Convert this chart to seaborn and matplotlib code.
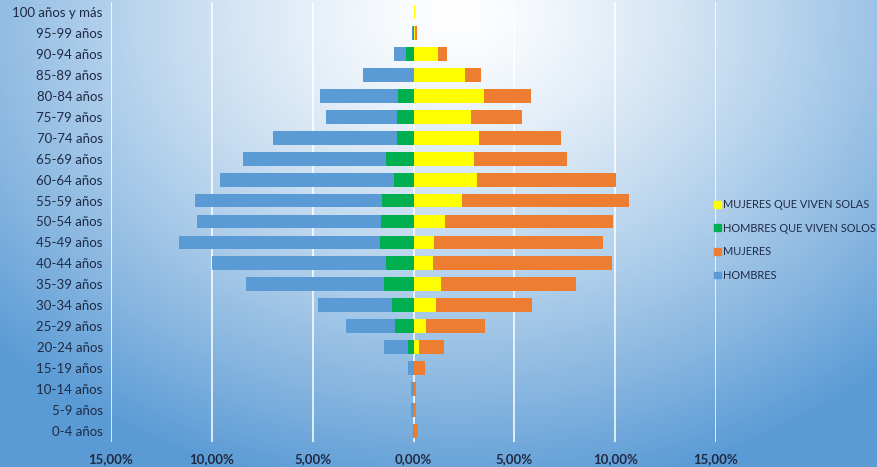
import numpy as np
import matplotlib
matplotlib.use("Agg")
import matplotlib.pyplot as plt
from matplotlib.patches import Patch
from matplotlib.ticker import FuncFormatter, MultipleLocator
import seaborn as sns

# --- DATOS (% de la población) ---
edades = ["100 años y más", "95-99 años", "90-94 años", "85-89 años", "80-84 años",
          "75-79 años", "70-74 años", "65-69 años", "60-64 años", "55-59 años",
          "50-54 años", "45-49 años", "40-44 años", "35-39 años", "30-34 años",
          "25-29 años", "20-24 años", "15-19 años", "10-14 años", "5-9 años", "0-4 años"]
hombres = [0.0, 0.05, 0.95, 2.5, 4.64, 4.33, 6.95, 8.46, 9.59, 10.81,
           10.76, 11.63, 9.97, 8.29, 4.76, 3.37, 1.44, 0.25, 0.1, 0.1, 0.02]
hombres_solos = [0.0, 0.02, 0.36, 0.0, 0.75, 0.81, 0.81, 1.34, 0.95, 1.54,
                 1.59, 1.64, 1.38, 1.44, 1.08, 0.90, 0.25, 0.0, 0.0, 0.0, 0.0]
mujeres = [0.05, 0.18, 1.67, 3.33, 5.85, 5.37, 7.31, 7.63, 10.03, 10.70,
           9.88, 9.39, 9.83, 8.04, 5.90, 3.55, 1.51, 0.55, 0.13, 0.13, 0.2]
mujeres_solas = [0.05, 0.05, 1.23, 2.54, 3.5, 2.87, 3.23, 3.02, 3.13, 2.42,
                 1.56, 1.03, 0.98, 1.36, 1.13, 0.60, 0.28, 0.03, 0.0, 0.0, 0.0]

C_HOMBRES = "#5B9BD5"
C_MUJERES = "#ED7D31"
C_H_SOLOS = "#00B050"
C_M_SOLAS = "#FFFF00"
TXT = "#1F2A44"

sns.set_theme(style="white")
plt.rcParams["font.family"] = ["Lato", "DejaVu Sans"]

fig = plt.figure(figsize=(8.77, 4.67), dpi=100)

# fondo degradado
bg = fig.add_axes([0, 0, 1, 1], zorder=-10)
yy, xx = np.mgrid[0:1:300j, 0:1:600j]
d = np.sqrt(((xx - 0.52) / 0.75) ** 2 + ((yy - 0.03) / 1.1) ** 2)
d = np.clip(d / 0.95, 0, 1) ** 1.3
c0 = np.array([1.0, 1.0, 1.0])
c1 = np.array([0x5B, 0x9B, 0xD5]) / 255
img = c0[None, None, :] * (1 - d[..., None]) + c1[None, None, :] * d[..., None]
bg.imshow(img, aspect="auto", extent=[0, 1, 0, 1], origin="upper")
bg.axis("off")

ax = fig.add_axes([111 / 877, 1 - 441.5 / 467, 605 / 877, 440 / 467])
ax.patch.set_alpha(0)

w = 0.66
neg = lambda v: [-x for x in v]
kw = dict(y=edades, order=edades, width=w, orient="h", ax=ax, saturation=1, linewidth=0)
sns.barplot(x=neg(hombres), color=C_HOMBRES, zorder=2, **kw)
sns.barplot(x=neg(hombres_solos), color=C_H_SOLOS, zorder=3, **kw)
sns.barplot(x=mujeres, color=C_MUJERES, zorder=2, **kw)
sns.barplot(x=mujeres_solas, color=C_M_SOLAS, zorder=3, **kw)

ax.set_xlim(-15, 15)
ax.set_ylim(len(edades) - 0.5, -0.5)
ax.xaxis.set_major_locator(MultipleLocator(5))
ax.xaxis.set_major_formatter(FuncFormatter(lambda v, p: f"{abs(v):.2f}%".replace(".", ",")))
ax.grid(axis="x", color="white", linewidth=1.1, zorder=0)
ax.set_axisbelow(True)
for s in ax.spines.values():
    s.set_visible(False)
ax.set_xlabel("")
ax.set_ylabel("")
ax.tick_params(axis="both", length=0)
ax.tick_params(axis="y", pad=6, labelsize=9.5, labelcolor=TXT)
ax.tick_params(axis="x", pad=8, labelsize=9.5, labelcolor=TXT)
for t in ax.get_xticklabels():
    t.set_fontweight("bold")

handles = [Patch(color=C_M_SOLAS, label="MUJERES QUE VIVEN SOLAS"),
           Patch(color=C_H_SOLOS, label="HOMBRES QUE VIVEN SOLOS"),
           Patch(color=C_MUJERES, label="MUJERES"),
           Patch(color=C_HOMBRES, label="HOMBRES")]
leg = fig.legend(handles=handles, loc="upper left", bbox_to_anchor=(714 / 877, 1 - 199 / 467),
                 frameon=False, fontsize=7.9, handlelength=0.6, handleheight=0.6,
                 handletextpad=0.25, labelspacing=1.15, borderpad=0, borderaxespad=0)
for t in leg.get_texts():
    t.set_color(TXT)

fig.savefig("out.png", dpi=100)
